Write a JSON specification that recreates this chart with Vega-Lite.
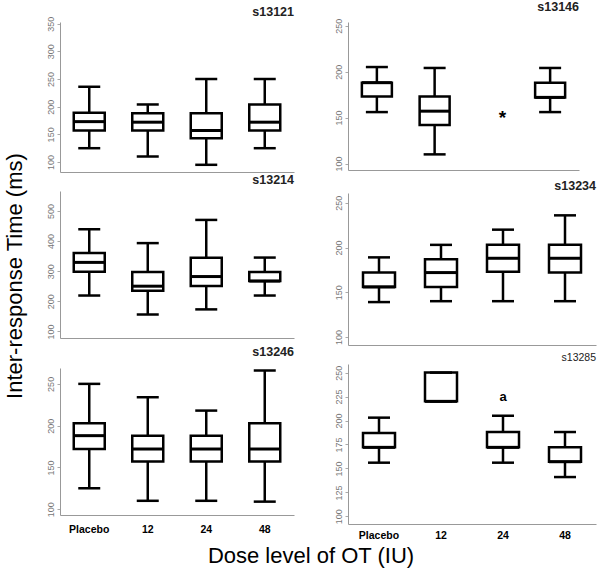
{
  "$schema": "https://vega.github.io/schema/vega-lite/v6.json",
  "padding": {"left": 3, "top": 0, "right": 5, "bottom": 5},
  "background": "white",
  "datasets": {
    "boxes": [
      {"subject": "s13121", "dose": "Placebo", "low": 125, "q1": 157, "median": 173, "q3": 189, "high": 236},
      {"subject": "s13121", "dose": "12", "low": 110, "q1": 157, "median": 172, "q3": 188, "high": 204},
      {"subject": "s13121", "dose": "24", "low": 95, "q1": 143, "median": 157, "q3": 188, "high": 250},
      {"subject": "s13121", "dose": "48", "low": 125, "q1": 157, "median": 172, "q3": 204, "high": 250},
      {"subject": "s13146", "dose": "Placebo", "low": 156, "q1": 173, "median": 188, "q3": 188, "high": 205},
      {"subject": "s13146", "dose": "12", "low": 110, "q1": 142, "median": 157, "q3": 173, "high": 204},
      {"subject": "s13146", "dose": "48", "low": 156, "q1": 172, "median": 172, "q3": 188, "high": 204},
      {"subject": "s13214", "dose": "Placebo", "low": 219, "q1": 298, "median": 329, "q3": 360, "high": 439},
      {"subject": "s13214", "dose": "12", "low": 156, "q1": 235, "median": 250, "q3": 297, "high": 393},
      {"subject": "s13214", "dose": "24", "low": 173, "q1": 251, "median": 282, "q3": 344, "high": 470},
      {"subject": "s13214", "dose": "48", "low": 219, "q1": 267, "median": 267, "q3": 297, "high": 345},
      {"subject": "s13234", "dose": "Placebo", "low": 139, "q1": 156, "median": 156, "q3": 172, "high": 189},
      {"subject": "s13234", "dose": "12", "low": 140, "q1": 156, "median": 172, "q3": 187, "high": 203},
      {"subject": "s13234", "dose": "24", "low": 140, "q1": 173, "median": 188, "q3": 203, "high": 220},
      {"subject": "s13234", "dose": "48", "low": 140, "q1": 172, "median": 188, "q3": 203, "high": 236},
      {"subject": "s13246", "dose": "Placebo", "low": 125, "q1": 172, "median": 188, "q3": 203, "high": 250},
      {"subject": "s13246", "dose": "12", "low": 110, "q1": 157, "median": 172, "q3": 188, "high": 234},
      {"subject": "s13246", "dose": "24", "low": 110, "q1": 157, "median": 172, "q3": 188, "high": 218},
      {"subject": "s13246", "dose": "48", "low": 109, "q1": 157, "median": 172, "q3": 203, "high": 266},
      {"subject": "s13285", "dose": "Placebo", "low": 156, "q1": 172, "median": 172, "q3": 187, "high": 203},
      {"subject": "s13285", "dose": "12", "low": 220, "q1": 220, "median": 220, "q3": 250, "high": 250},
      {"subject": "s13285", "dose": "24", "low": 156, "q1": 172, "median": 172, "q3": 188, "high": 205},
      {"subject": "s13285", "dose": "48", "low": 141, "q1": 157, "median": 157, "q3": 172, "high": 188}
    ],
    "notes": [
      {"subject": "s13146", "dose": "24", "value": 153, "label": "*"},
      {"subject": "s13285", "dose": "24", "value": 225, "label": "a"}
    ]
  },
  "title": {"text": "Dose level of OT (IU)", "orient": "bottom", "anchor": "middle", "fontSize": 22, "fontWeight": "normal", "color": "black", "offset": 5, "dx": 11},
  "spacing": 40,
  "hconcat": [
    {
      "spacing": 6,
      "title": {"text": "Inter-response Time (ms)", "orient": "left", "anchor": "middle", "fontSize": 22, "fontWeight": "normal", "color": "black", "offset": 19, "dx": -6},
      "vconcat": [
        {
          "spacing": 1,
          "vconcat": [
            {
              "width": 234, "height": 150,
              "title": {"text": "s13121", "anchor": "end", "offset": -2, "fontSize": 12.5, "fontWeight": "bold", "color": "#222"},
              "data": {"name": "boxes"},
              "transform": [{"filter": "datum.subject === 's13121'"}],
              "encoding": {"x": {"field": "dose", "type": "ordinal", "title": null, "scale": {"domain": ["Placebo", "12", "24", "48"], "paddingInner": 0, "paddingOuter": 0}}},
              "layer": [
                {"mark": {"type": "rule", "strokeWidth": 2.5, "color": "black"}, "encoding": {"y": {"field": "low", "type": "quantitative", "title": null, "scale": {"domain": [82, 353], "nice": false, "zero": false}, "axis": {"values": [100, 150, 200, 250, 300, 350], "tickCount": 20}}, "y2": {"field": "high"}}},
                {"mark": {"type": "bar", "fill": "white", "stroke": "black", "strokeWidth": 2.5, "size": 31}, "encoding": {"y": {"field": "q1", "type": "quantitative", "title": null}, "y2": {"field": "q3"}}},
                {"mark": {"type": "tick", "color": "black", "opacity": 1, "thickness": 3, "size": 31}, "encoding": {"y": {"field": "median", "type": "quantitative", "title": null}}},
                {"mark": {"type": "tick", "color": "black", "opacity": 1, "thickness": 2.5, "size": 22}, "encoding": {"y": {"field": "low", "type": "quantitative", "title": null}}},
                {"mark": {"type": "tick", "color": "black", "opacity": 1, "thickness": 2.5, "size": 22}, "encoding": {"y": {"field": "high", "type": "quantitative", "title": null}}}
              ]
            },
            {
              "width": 234, "height": 147,
              "title": {"text": "s13214", "anchor": "end", "offset": 5, "fontSize": 12.5, "fontWeight": "bold", "color": "#222"},
              "data": {"name": "boxes"},
              "transform": [{"filter": "datum.subject === 's13214'"}],
              "encoding": {"x": {"field": "dose", "type": "ordinal", "title": null, "scale": {"domain": ["Placebo", "12", "24", "48"], "paddingInner": 0, "paddingOuter": 0}}},
              "layer": [
                {"mark": {"type": "rule", "strokeWidth": 2.5, "color": "black"}, "encoding": {"y": {"field": "low", "type": "quantitative", "title": null, "scale": {"domain": [78, 566], "nice": false, "zero": false}, "axis": {"values": [100, 200, 300, 400, 500], "tickCount": 20}}, "y2": {"field": "high"}}},
                {"mark": {"type": "bar", "fill": "white", "stroke": "black", "strokeWidth": 2.5, "size": 31}, "encoding": {"y": {"field": "q1", "type": "quantitative", "title": null}, "y2": {"field": "q3"}}},
                {"mark": {"type": "tick", "color": "black", "opacity": 1, "thickness": 3, "size": 31}, "encoding": {"y": {"field": "median", "type": "quantitative", "title": null}}},
                {"mark": {"type": "tick", "color": "black", "opacity": 1, "thickness": 2.5, "size": 22}, "encoding": {"y": {"field": "low", "type": "quantitative", "title": null}}},
                {"mark": {"type": "tick", "color": "black", "opacity": 1, "thickness": 2.5, "size": 22}, "encoding": {"y": {"field": "high", "type": "quantitative", "title": null}}}
              ]
            }
          ]
        },
        {
          "width": 234, "height": 147,
          "title": {"text": "s13246", "anchor": "end", "offset": 10, "fontSize": 12.5, "fontWeight": "bold", "color": "#222"},
          "data": {"name": "boxes"},
          "transform": [{"filter": "datum.subject === 's13246'"}],
          "encoding": {"x": {"field": "dose", "type": "ordinal", "title": null, "scale": {"domain": ["Placebo", "12", "24", "48"], "paddingInner": 0, "paddingOuter": 0}, "axis": {"labels": true, "labelAngle": 0, "labelFontWeight": "bold", "labelFontSize": 10.5, "labelColor": "black", "labelPadding": 9, "encode": {"labels": {"update": {"dx": {"signal": "datum.value === 'Placebo' ? -11 : datum.value === '48' ? 2 : -13"}}}}}}},
          "layer": [
            {"mark": {"type": "rule", "strokeWidth": 2.5, "color": "black"}, "encoding": {"y": {"field": "low", "type": "quantitative", "title": null, "scale": {"domain": [93, 269], "nice": false, "zero": false}, "axis": {"values": [100, 150, 200, 250], "tickCount": 20}}, "y2": {"field": "high"}}},
            {"mark": {"type": "bar", "fill": "white", "stroke": "black", "strokeWidth": 2.5, "size": 31}, "encoding": {"y": {"field": "q1", "type": "quantitative", "title": null}, "y2": {"field": "q3"}}},
            {"mark": {"type": "tick", "color": "black", "opacity": 1, "thickness": 3, "size": 31}, "encoding": {"y": {"field": "median", "type": "quantitative", "title": null}}},
            {"mark": {"type": "tick", "color": "black", "opacity": 1, "thickness": 2.5, "size": 22}, "encoding": {"y": {"field": "low", "type": "quantitative", "title": null}}},
            {"mark": {"type": "tick", "color": "black", "opacity": 1, "thickness": 2.5, "size": 22}, "encoding": {"y": {"field": "high", "type": "quantitative", "title": null}}}
          ]
        }
      ]
    },
    {
      "spacing": 7,
      "vconcat": [
        {
          "width": 231, "height": 148,
          "title": {"text": "s13146", "anchor": "end", "offset": 5, "fontSize": 12.5, "fontWeight": "bold", "color": "#222"},
          "data": {"name": "boxes"},
          "transform": [{"filter": "datum.subject === 's13146'"}],
          "encoding": {"x": {"field": "dose", "type": "ordinal", "title": null, "scale": {"domain": ["Placebo", "12", "24", "48"], "paddingInner": 0, "paddingOuter": 0}}},
          "layer": [
            {"mark": {"type": "rule", "strokeWidth": 2.5, "color": "black"}, "encoding": {"y": {"field": "low", "type": "quantitative", "title": null, "scale": {"domain": [93, 254], "nice": false, "zero": false}, "axis": {"values": [100, 150, 200, 250], "tickCount": 20}}, "y2": {"field": "high"}}},
            {"mark": {"type": "bar", "fill": "white", "stroke": "black", "strokeWidth": 2.5, "size": 30}, "encoding": {"y": {"field": "q1", "type": "quantitative", "title": null}, "y2": {"field": "q3"}}},
            {"mark": {"type": "tick", "color": "black", "opacity": 1, "thickness": 3, "size": 30}, "encoding": {"y": {"field": "median", "type": "quantitative", "title": null}}},
            {"mark": {"type": "tick", "color": "black", "opacity": 1, "thickness": 2.5, "size": 22}, "encoding": {"y": {"field": "low", "type": "quantitative", "title": null}}},
            {"mark": {"type": "tick", "color": "black", "opacity": 1, "thickness": 2.5, "size": 22}, "encoding": {"y": {"field": "high", "type": "quantitative", "title": null}}},
            {"data": {"name": "notes"}, "transform": [{"filter": "datum.subject === 's13146'"}], "mark": {"type": "text", "fontSize": 19, "fontWeight": "bold", "color": "black", "dx": 10, "dy": 3, "baseline": "middle"}, "encoding": {"y": {"field": "value", "type": "quantitative", "title": null}, "text": {"field": "label"}}}
          ]
        },
        {
          "width": 248, "height": 152,
          "title": {"text": "s13234", "anchor": "end", "offset": 1, "fontSize": 12.5, "fontWeight": "bold", "color": "#222"},
          "data": {"name": "boxes"},
          "transform": [{"filter": "datum.subject === 's13234'"}],
          "encoding": {"x": {"field": "dose", "type": "ordinal", "title": null, "scale": {"domain": ["Placebo", "12", "24", "48"], "paddingInner": 0, "paddingOuter": 0}}},
          "layer": [
            {"mark": {"type": "rule", "strokeWidth": 2.5, "color": "black"}, "encoding": {"y": {"field": "low", "type": "quantitative", "title": null, "scale": {"domain": [91, 261], "nice": false, "zero": false}, "axis": {"values": [100, 150, 200, 250], "tickCount": 20}}, "y2": {"field": "high"}}},
            {"mark": {"type": "bar", "fill": "white", "stroke": "black", "strokeWidth": 2.5, "size": 32}, "encoding": {"y": {"field": "q1", "type": "quantitative", "title": null}, "y2": {"field": "q3"}}},
            {"mark": {"type": "tick", "color": "black", "opacity": 1, "thickness": 3, "size": 32}, "encoding": {"y": {"field": "median", "type": "quantitative", "title": null}}},
            {"mark": {"type": "tick", "color": "black", "opacity": 1, "thickness": 2.5, "size": 22}, "encoding": {"y": {"field": "low", "type": "quantitative", "title": null}}},
            {"mark": {"type": "tick", "color": "black", "opacity": 1, "thickness": 2.5, "size": 22}, "encoding": {"y": {"field": "high", "type": "quantitative", "title": null}}}
          ]
        },
        {
          "width": 248, "height": 160,
          "title": {"text": "s13285", "anchor": "end", "offset": 1, "fontSize": 10.5, "fontWeight": "normal", "color": "#222"},
          "data": {"name": "boxes"},
          "transform": [{"filter": "datum.subject === 's13285'"}],
          "encoding": {"x": {"field": "dose", "type": "ordinal", "title": null, "scale": {"domain": ["Placebo", "12", "24", "48"], "paddingInner": 0, "paddingOuter": 0}, "axis": {"labels": true, "labelAngle": 0, "labelFontWeight": "bold", "labelFontSize": 10.5, "labelColor": "black", "labelPadding": 6, "encode": {"labels": {"update": {"dx": {"signal": "datum.value === 'Placebo' ? -8 : datum.value === '12' ? -13 : datum.value === '24' ? -16 : -13"}}}}}}},
          "layer": [
            {"mark": {"type": "rule", "strokeWidth": 2.5, "color": "black"}, "encoding": {"y": {"field": "low", "type": "quantitative", "title": null, "scale": {"domain": [92, 259], "nice": false, "zero": false}, "axis": {"values": [100, 125, 150, 175, 200, 225, 250], "tickCount": 20}}, "y2": {"field": "high"}}},
            {"mark": {"type": "bar", "fill": "white", "stroke": "black", "strokeWidth": 2.5, "size": 32}, "encoding": {"y": {"field": "q1", "type": "quantitative", "title": null}, "y2": {"field": "q3"}}},
            {"mark": {"type": "tick", "color": "black", "opacity": 1, "thickness": 3, "size": 32}, "encoding": {"y": {"field": "median", "type": "quantitative", "title": null}}},
            {"mark": {"type": "tick", "color": "black", "opacity": 1, "thickness": 2.5, "size": 22}, "encoding": {"y": {"field": "low", "type": "quantitative", "title": null}}},
            {"mark": {"type": "tick", "color": "black", "opacity": 1, "thickness": 2.5, "size": 22}, "encoding": {"y": {"field": "high", "type": "quantitative", "title": null}}},
            {"data": {"name": "notes"}, "transform": [{"filter": "datum.subject === 's13285'"}], "mark": {"type": "text", "fontSize": 13, "fontWeight": "bold", "color": "black", "baseline": "middle"}, "encoding": {"y": {"field": "value", "type": "quantitative", "title": null}, "text": {"field": "label"}}}
          ]
        }
      ]
    }
  ],
  "config": {
    "font": "Liberation Sans",
    "view": {"stroke": null},
    "title": {"font": "Liberation Sans"},
    "axis": {"labelFont": "Liberation Sans", "titleFont": "Liberation Sans", "grid": false},
    "axisX": {"ticks": false, "labels": false, "domainColor": "#999", "domainWidth": 1},
    "axisY": {"labelAngle": -90, "labelFontSize": 9, "labelColor": "#777", "tickSize": 3, "tickColor": "#aaa", "domainColor": "#999", "domainWidth": 1, "labelPadding": 2, "labelOverlap": false}
  }
}
